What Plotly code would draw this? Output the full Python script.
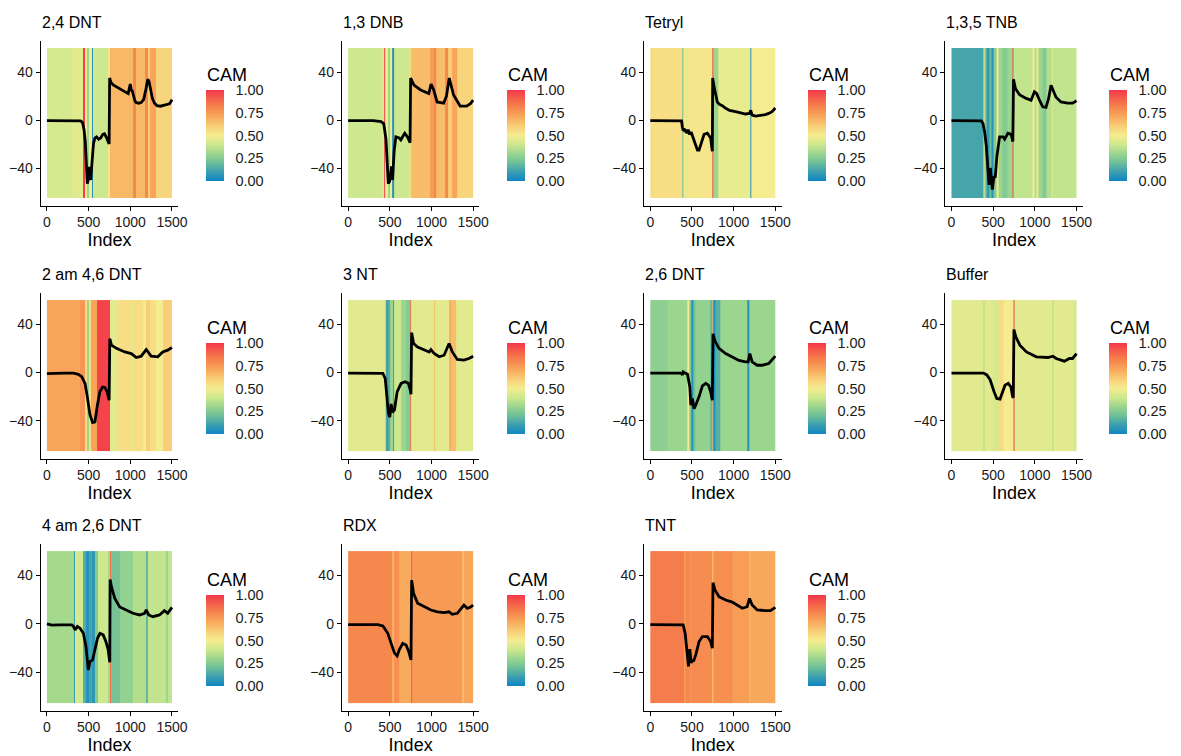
import plotly.graph_objects as go

# ---------------- data ----------------
titles = ["2,4 DNT", "1,3 DNB", "Tetryl", "1,3,5 TNB",
          "2 am 4,6 DNT", "3 NT", "2,6 DNT", "Buffer",
          "4 am 2,6 DNT", "RDX", "TNT"]

# CAM strips: bin edges along Index and CAM value per bin
dnt24_cam_x = [0, 298, 427, 452, 484, 508, 536, 550, 734, 754, 1032, 1064, 1179, 1211, 1239, 1310, 1500]
dnt24_cam_v = [0.42, 0.45, 0.98, 0.5, 0.3, 0.5, 0.04, 0.4, 0.52, 0.66, 0.8, 0.66, 0.8, 0.6, 0.72, 0.58]
dnt24_sig_x = [0, 100, 200, 300, 400, 420, 430, 445, 460, 472, 484, 495, 505, 515, 525, 540, 558, 575, 595, 620,
               645, 670, 690, 710, 730, 746, 752, 770, 800, 850, 900, 950, 975, 990, 1000, 1012, 1025, 1040, 1055,
               1070, 1100, 1130, 1160, 1185, 1210, 1225, 1245, 1265, 1290, 1320, 1360, 1400, 1440, 1470, 1490, 1500]
dnt24_sig_y = [-0.5, -0.5, -0.5, -0.6, -0.8, -1.5, -3, -8, -18, -35, -53, -50, -39, -46, -50, -36, -20, -15, -14, -16,
               -15, -12, -11.5, -14, -17, -20, 35, 31, 29, 27, 25, 23, 22, 27, 30, 25, 24, 20, 16,
               14.5, 14, 14.5, 17, 25, 34, 32, 25, 18, 14, 12, 11.5, 12, 12.5, 13.5, 15.5, 17]

dnb13_cam_x = [0, 395, 426, 446, 474, 506, 533, 553, 731, 750, 988, 1027, 1059, 1165, 1205, 1244, 1304, 1500]
dnb13_cam_v = [0.4, 0.43, 0.97, 0.5, 0.3, 0.5, 0.05, 0.4, 0.55, 0.65, 0.75, 0.8, 0.65, 0.8, 0.6, 0.72, 0.58]
dnb13_sig_x = [0, 100, 200, 300, 395, 427, 454, 474, 482, 498, 521, 533, 553, 573, 612, 632, 679, 711, 743,
               750, 790, 870, 968, 995, 1027, 1067, 1146, 1180, 1213, 1264, 1343, 1422, 1470, 1500]
dnb13_sig_y = [-0.5, -0.5, -0.5, -0.6, -1.4, -3, -16, -50, -53, -51, -38.6, -50, -25, -14, -15, -16.5, -11, -14, -19,
               35, 29, 25, 22, 30, 25, 15, 14, 20, 35, 21, 11.6, 11.6, 13.8, 16.5]

tetryl_cam_x = [0, 378, 390, 430, 450, 744, 752, 816, 1202, 1214, 1500]
tetryl_cam_v = [0.55, 0.2, 0.52, 0.46, 0.52, 0.95, 0.3, 0.47, 0.05, 0.5]
tetryl_sig_x = [0, 100, 200, 300, 375, 385, 395, 405, 415, 425, 440, 455, 470, 490, 505, 525, 545, 565, 585, 600,
                617, 645, 685, 724, 744, 748, 764, 785, 804, 830, 864, 900, 950, 1023, 1080, 1142, 1190, 1205, 1212,
                1222, 1262, 1300, 1341, 1380, 1421, 1460, 1500]
tetryl_sig_y = [-0.5, -0.5, -0.5, -0.5, -0.8, -6, -9, -7, -10, -8, -11, -8, -12, -10, -13, -17, -20, -25, -25, -22,
                -17, -12, -11, -15, -26, 35, 28, 20, 15, 13, 12, 10, 8, 7, 6, 5, 5.5, 8, 6,
                4, 3.3, 3.5, 4, 4.5, 5.5, 7, 10]

tnb135_cam_x = [0, 378, 398, 418, 458, 478, 498, 545, 569, 617, 677, 736, 746, 975, 995, 1023, 1047, 1094, 1134,
                1194, 1206, 1500]
tnb135_cam_v = [0.12, 0.5, 0.25, 0.08, 0.2, 0.05, 0.25, 0.5, 0.3, 0.25, 0.3, 0.95, 0.38, 0.5, 0.35, 0.48, 0.3,
                0.25, 0.35, 0.45, 0.38]
tnb135_sig_x = [0, 100, 200, 300, 358, 378, 398, 418, 438, 450, 466, 478, 490, 509, 525, 545, 557, 577, 617, 637,
                677, 716, 736, 744, 768, 816, 896, 955, 995, 1023, 1055, 1095, 1134, 1165, 1194, 1220, 1254, 1313,
                1393, 1453, 1500]
tnb135_sig_y = [-0.5, -0.5, -0.5, -0.5, -0.7, -3, -10, -22, -44, -54, -40, -54, -58, -47, -48, -30, -22, -14, -14, -16,
                -11, -12, -18, 34, 26, 21, 18, 16.5, 23.5, 22, 16.5, 11, 10.5, 18, 29, 25, 19, 15,
                14, 14, 16]

am246_cam_x = [0, 397, 457, 484, 500, 524, 595, 754, 853, 1012, 1032, 1151, 1191, 1230, 1310, 1389, 1500]
am246_cam_v = [0.72, 0.76, 0.55, 0.3, 0.55, 0.72, 0.97, 0.45, 0.55, 0.45, 0.55, 0.5, 0.6, 0.55, 0.5, 0.6]
am246_sig_x = [0, 100, 200, 318, 377, 417, 457, 484, 516, 548, 576, 603, 635, 667, 695, 722, 746, 754, 774, 834,
               933, 1012, 1072, 1131, 1191, 1250, 1330, 1389, 1449, 1500]
am246_sig_y = [-1, -0.5, -0.5, -0.5, -1.5, -3.5, -9, -20, -35, -41.5, -41, -28, -16, -12, -12.4, -16, -23, 28, 22.6, 20,
               17, 15.7, 12.4, 13.5, 19, 13.5, 13, 17, 18.5, 20.7]

nt3_cam_x = [0, 445, 457, 484, 508, 536, 556, 635, 695, 746, 758, 1032, 1048, 1211, 1238, 1290, 1500]
nt3_cam_v = [0.45, 0.65, 0.1, 0.15, 0.3, 0.1, 0.4, 0.3, 0.25, 0.85, 0.45, 0.65, 0.45, 0.7, 0.65, 0.45]
nt3_sig_x = [0, 100, 200, 300, 417, 445, 468, 484, 500, 516, 532, 556, 588, 635, 683, 723, 746, 754, 762, 786,
             834, 913, 973, 993, 1032, 1092, 1151, 1211, 1250, 1310, 1389, 1449, 1500]
nt3_sig_y = [-0.5, -0.5, -0.5, -0.5, -0.7, -5, -20, -34, -37, -26, -33, -31, -16, -9, -7.7, -9, -14.6, -18, 33, 24,
             21, 18.5, 17, 19, 15.7, 13, 14.3, 24, 17, 10.8, 10.2, 11.6, 13.5]

dnt26_cam_x = [0, 200, 446, 466, 494, 517, 545, 724, 744, 752, 784, 844, 1162, 1182, 1500]
dnt26_cam_v = [0.27, 0.3, 0.5, 0.25, 0.05, 0.22, 0.28, 0.18, 0.7, 0.03, 0.15, 0.3, 0.05, 0.3]
dnt26_sig_x = [0, 100, 200, 300, 366, 386, 395, 406, 446, 474, 486, 505, 525, 545, 585, 625, 665, 697, 724, 744,
               752, 776, 824, 903, 983, 1063, 1142, 1174, 1194, 1222, 1282, 1341, 1421, 1500]
dnt26_sig_y = [-0.5, -0.5, -0.5, -0.5, -0.5, -2, 0.5, 0, -1.4, -12, -27, -21.5, -30, -27, -20, -11, -9, -10.5, -16, -23,
               32, 26, 20, 15.7, 13, 10, 8.8, 8.8, 15.7, 8.8, 6, 6, 7.4, 13.5]

buffer_cam_x = [0, 384, 396, 503, 562, 622, 740, 750, 1216, 1228, 1473, 1500]
buffer_cam_v = [0.45, 0.35, 0.45, 0.42, 0.56, 0.5, 0.97, 0.45, 0.35, 0.45, 0.4]
buffer_sig_x = [0, 100, 200, 300, 384, 424, 463, 511, 543, 582, 614, 642, 681, 713, 733, 741, 749, 772, 820, 899,
                1018, 1156, 1216, 1255, 1354, 1414, 1453, 1500]
buffer_sig_y = [-0.5, -0.5, -0.5, -0.5, -0.5, -2, -6, -16, -21.5, -22, -16, -10.5, -9, -12, -20, -21, 35.6, 29.5, 22.6, 17,
                13, 12.4, 13.5, 11.6, 9.4, 11.6, 11.6, 15.7]

am426_cam_x = [0, 318, 330, 437, 468, 508, 536, 576, 615, 734, 754, 762, 873, 1032, 1191, 1211, 1429, 1449, 1500]
am426_cam_v = [0.32, 0.1, 0.42, 0.15, 0.05, 0.12, 0.07, 0.25, 0.4, 0.32, 0.85, 0.22, 0.28, 0.35, 0.18, 0.38, 0.3, 0.38]
am426_sig_x = [0, 60, 150, 298, 318, 337, 365, 397, 437, 468, 484, 496, 516, 548, 576, 607, 635, 675, 707, 734,
               754, 758, 774, 814, 873, 953, 1032, 1111, 1171, 1191, 1222, 1270, 1350, 1409, 1449, 1500]
am426_sig_y = [0, -1, -0.8, -0.8, -2, -5, -2, -3.5, -7.7, -18.6, -29.6, -37.8, -31, -29.6, -21, -11.8, -7.7, -9, -14.5, -21,
               -31.5, 36.7, 30.7, 21, 14, 11.5, 8.8, 7.4, 8.8, 11.5, 7.4, 6, 7.4, 11, 8.8, 13.7]

rdx_cam_x = [0, 528, 556, 615, 754, 762, 1370, 1397, 1500]
rdx_cam_v = [0.8, 0.68, 0.78, 0.7, 0.92, 0.75, 0.65, 0.72]
rdx_sig_x = [0, 100, 200, 357, 417, 476, 516, 556, 588, 615, 655, 695, 727, 754, 762, 786, 834, 913, 993, 1072,
             1151, 1211, 1250, 1310, 1389, 1429, 1469, 1500]
rdx_sig_y = [-0.5, -0.5, -0.5, -0.5, -1.6, -7.7, -16, -24, -26.3, -21, -16, -17.3, -22.7, -29.6, 36, 25, 17, 14, 11.5, 10,
             9.3, 10, 8, 8.8, 15.6, 12.9, 14, 15.6]

tnt_cam_x = [0, 406, 418, 466, 505, 744, 756, 983, 1182, 1202, 1500]
tnt_cam_v = [0.83, 0.7, 0.8, 0.78, 0.79, 0.6, 0.78, 0.74, 0.65, 0.71]
tnt_sig_x = [0, 100, 200, 300, 394, 418, 434, 446, 458, 474, 490, 505, 517, 545, 585, 625, 685, 724, 744, 752,
             776, 824, 903, 983, 1043, 1103, 1162, 1190, 1222, 1282, 1381, 1441, 1500]
tnt_sig_y = [-0.5, -0.5, -0.5, -0.5, -0.7, -7.7, -20, -31, -35, -20.8, -32, -29.6, -31, -25.5, -14.5, -10.4, -10.4, -14.5, -20, 34,
             28, 22.5, 19.7, 18, 15.6, 12.9, 14.2, 21, 15.6, 11.5, 11, 11, 13.7]

cam_band = [-65, 60]            # vertical extent of the CAM strip
x_ticks = [0, 500, 1000, 1500]
y_ticks = [-40, 0, 40]
cbar_ticks = [0, 0.25, 0.5, 0.75, 1.0]
cbar_labels = ["0.00", "0.25", "0.50", "0.75", "1.00"]

panels = [
    (dnt24_cam_x, dnt24_cam_v, dnt24_sig_x, dnt24_sig_y),
    (dnb13_cam_x, dnb13_cam_v, dnb13_sig_x, dnb13_sig_y),
    (tetryl_cam_x, tetryl_cam_v, tetryl_sig_x, tetryl_sig_y),
    (tnb135_cam_x, tnb135_cam_v, tnb135_sig_x, tnb135_sig_y),
    (am246_cam_x, am246_cam_v, am246_sig_x, am246_sig_y),
    (nt3_cam_x, nt3_cam_v, nt3_sig_x, nt3_sig_y),
    (dnt26_cam_x, dnt26_cam_v, dnt26_sig_x, dnt26_sig_y),
    (buffer_cam_x, buffer_cam_v, buffer_sig_x, buffer_sig_y),
    (am426_cam_x, am426_cam_v, am426_sig_x, am426_sig_y),
    (rdx_cam_x, rdx_cam_v, rdx_sig_x, rdx_sig_y),
    (tnt_cam_x, tnt_cam_v, tnt_sig_x, tnt_sig_y),
]

# ---------------- style / layout ----------------
W, H = 1181, 756
FONT = "Liberation Sans, Arial, Helvetica, sans-serif"
TXT = "#1a1a1a"
SCALE = [
    [0.00, "#0f86c5"], [0.10, "#3b9eb0"], [0.20, "#6cbf98"], [0.30, "#9bd58e"],
    [0.40, "#cde88e"], [0.50, "#f5ec90"], [0.60, "#f8cf78"], [0.70, "#f8ab5c"],
    [0.80, "#f6884e"], [0.90, "#f4624a"], [1.00, "#f4364c"],
]
col_left = [41, 344.5, 649, 952.5]
plot_w = 138.6
row_top = [40.5, 292.5, 543.5]
row_bot = [205.5, 458.5, 710.5]
cbar_left = [208, 511, 814, 1118]
cbar_top = [90, 343, 595]
cbar_len = 91
x_range = [-75, 1575]
y_range = [-71.25, 66.25]


def px_x(v):
    return v / W


def px_y(v):
    return 1 - v / H


fig = go.Figure()
annotations = []
layout_axes = {}

for i, (cx, cv, sx, sy) in enumerate(panels):
    r, c = divmod(i, 4)
    n = i + 1
    xa = "x" if n == 1 else f"x{n}"
    ya = "y" if n == 1 else f"y{n}"
    fig.add_trace(go.Heatmap(
        x=cx, y=cam_band, z=[cv], zmin=0, zmax=1, colorscale=SCALE,
        xaxis=xa, yaxis=ya, hoverinfo="skip",
        colorbar=dict(
            x=px_x(cbar_left[c]), xanchor="left", xpad=0,
            y=px_y(cbar_top[r]), yanchor="top", ypad=0,
            len=cbar_len, lenmode="pixels", thickness=18, thicknessmode="pixels",
            outlinewidth=0, tickvals=cbar_ticks, ticktext=cbar_labels,
            ticks="outside", ticklen=9, tickcolor="rgba(0,0,0,0)",
            tickfont=dict(family=FONT, size=14.5, color=TXT),
        ),
    ))
    fig.add_trace(go.Scatter(
        x=sx, y=sy, mode="lines", line=dict(color="black", width=2.8),
        xaxis=xa, yaxis=ya, showlegend=False, hoverinfo="skip",
    ))
    axis_common = dict(
        showline=True, linecolor="black", linewidth=1.3, ticks="outside", ticklen=4,
        tickcolor="black", tickwidth=1.2, showgrid=False, zeroline=False,
        tickfont=dict(family=FONT, size=14, color=TXT), fixedrange=True,
    )
    layout_axes["xaxis" if n == 1 else f"xaxis{n}"] = dict(
        axis_common, domain=[px_x(col_left[c]), px_x(col_left[c] + plot_w)],
        range=x_range, tickvals=x_ticks, anchor=ya,
        title=dict(text="Index", font=dict(family=FONT, size=18, color="black"), standoff=2),
    )
    layout_axes["yaxis" if n == 1 else f"yaxis{n}"] = dict(
        axis_common, domain=[px_y(row_bot[r]), px_y(row_top[r])],
        range=y_range, tickvals=y_ticks, anchor=xa,
    )
    annotations.append(dict(
        text=titles[i], xref="paper", yref="paper", x=px_x(col_left[c] - 1), y=px_y(row_top[r] - 18),
        xanchor="left", yanchor="middle", showarrow=False,
        font=dict(family=FONT, size=16, color="black"),
    ))
    annotations.append(dict(
        text="CAM", xref="paper", yref="paper", x=px_x(cbar_left[c] - 1), y=px_y(cbar_top[r] - 15),
        xanchor="left", yanchor="middle", showarrow=False,
        font=dict(family=FONT, size=18, color="black"),
    ))

fig.update_layout(
    width=W, height=H, margin=dict(l=0, r=0, t=0, b=0),
    paper_bgcolor="white", plot_bgcolor="white", showlegend=False,
    annotations=annotations, **layout_axes,
)

fig.write_html("out.html")
